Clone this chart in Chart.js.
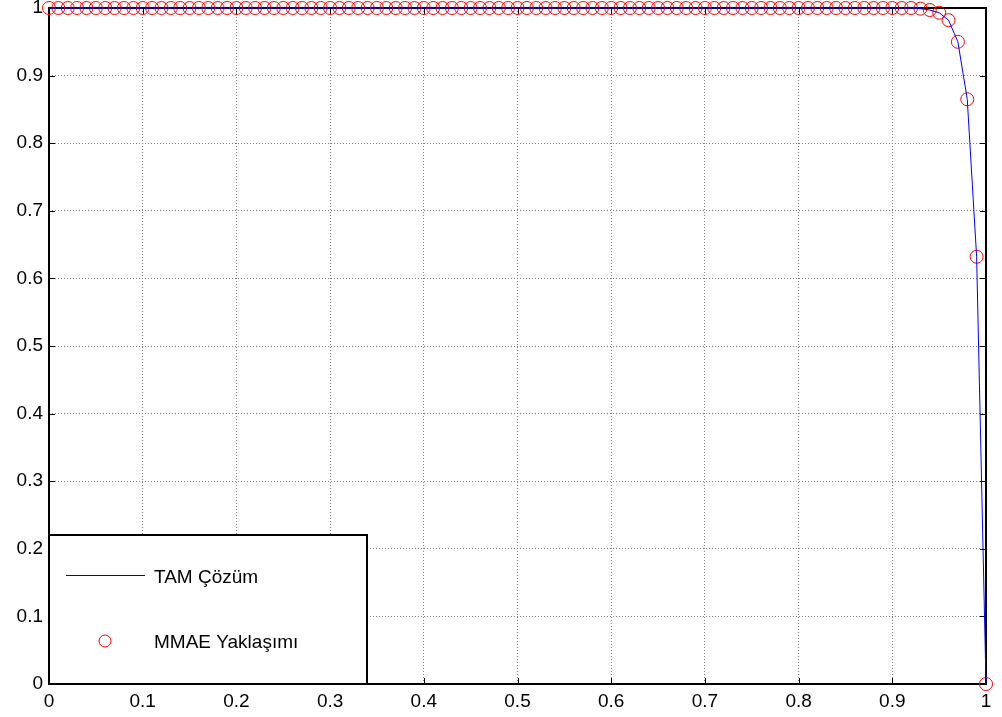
<!DOCTYPE html>
<html><head><meta charset="utf-8">
<script src="https://cdn.jsdelivr.net/npm/chart.js@4/dist/chart.umd.min.js"></script>
<style>html,body{margin:0;padding:0;background:#fff;}#wrap{width:1002px;height:717px;}</style>
</head><body><div id="wrap"><canvas id="c" width="1002" height="717"></canvas></div>
<script>
const xValues=[0,0.01,0.02,0.03,0.04,0.05,0.06,0.07,0.08,0.09,0.1,0.11,0.12,0.13,0.14,0.15,0.16,0.17,0.18,0.19,0.2,0.21,0.22,0.23,0.24,0.25,0.26,0.27,0.28,0.29,0.3,0.31,0.32,0.33,0.34,0.35,0.36,0.37,0.38,0.39,0.4,0.41,0.42,0.43,0.44,0.45,0.46,0.47,0.48,0.49,0.5,0.51,0.52,0.53,0.54,0.55,0.56,0.57,0.58,0.59,0.6,0.61,0.62,0.63,0.64,0.65,0.66,0.67,0.68,0.69,0.7,0.71,0.72,0.73,0.74,0.75,0.76,0.77,0.78,0.79,0.8,0.81,0.82,0.83,0.84,0.85,0.86,0.87,0.88,0.89,0.9,0.91,0.92,0.93,0.94,0.95,0.96,0.97,0.98,0.99,1];
const exactValues=[1,1,1,1,1,1,1,1,1,1,1,1,1,1,1,1,1,1,1,1,1,1,1,1,1,1,1,1,1,1,1,1,1,1,1,1,1,1,1,1,1,1,1,1,1,1,1,1,1,1,1,1,1,1,1,1,1,1,1,1,1,1,1,1,1,1,1,1,1,1,1,1,1,1,1,1,1,1,1,1,1,1,1,1,1,1,1,1,1,1,1,1,1,0.999,0.997,0.993,0.982,0.950,0.865,0.632,0];
const mmaeValues=[1,1,1,1,1,1,1,1,1,1,1,1,1,1,1,1,1,1,1,1,1,1,1,1,1,1,1,1,1,1,1,1,1,1,1,1,1,1,1,1,1,1,1,1,1,1,1,1,1,1,1,1,1,1,1,1,1,1,1,1,1,1,1,1,1,1,1,1,1,1,1,1,1,1,1,1,1,1,1,1,1,1,1,1,1,1,1,1,1,1,1,1,1,0.999,0.997,0.993,0.982,0.950,0.865,0.632,0];
const xTickLabels=['0','0.1','0.2','0.3','0.4','0.5','0.6','0.7','0.8','0.9','1'];
const yTickLabels=['0','0.1','0.2','0.3','0.4','0.5','0.6','0.7','0.8','0.9','1'];
const seriesLabels=['TAM Çözüm','MMAE Yaklaşımı'];

const FONT='"Liberation Sans", Arial, sans-serif';

const framePlugin={
  id:'frame',
  beforeDatasetsDraw(chart){
    const {ctx,chartArea:a,scales}=chart;
    ctx.save();
    ctx.strokeStyle='#000';ctx.lineWidth=1;
    const tl=6;
    scales.x.ticks.forEach(t=>{
      const px=Math.round(scales.x.getPixelForValue(t.value))+0.5;
      ctx.beginPath();ctx.moveTo(px,a.bottom);ctx.lineTo(px,a.bottom-tl);ctx.stroke();
      ctx.beginPath();ctx.moveTo(px,a.top);ctx.lineTo(px,a.top+tl);ctx.stroke();
    });
    scales.y.ticks.forEach(t=>{
      const py=Math.round(scales.y.getPixelForValue(t.value))+0.5;
      ctx.beginPath();ctx.moveTo(a.left,py);ctx.lineTo(a.left+tl,py);ctx.stroke();
      ctx.beginPath();ctx.moveTo(a.right,py);ctx.lineTo(a.right-tl,py);ctx.stroke();
    });
    ctx.lineWidth=2;
    ctx.strokeRect(a.left,a.top,a.right-a.left,a.bottom-a.top);
    ctx.restore();
  },
  afterDatasetsDraw(chart){
    const {ctx,chartArea:a}=chart;
    ctx.save();
    const L=a.left,T=535,R=367,B=a.bottom;
    ctx.fillStyle='#fff';
    ctx.fillRect(L,T,R-L,B-T);
    ctx.strokeStyle='#000';ctx.lineWidth=2;
    ctx.strokeRect(L,T,R-L,B-T);
    ctx.strokeStyle='#0000cc';ctx.lineWidth=1;
    ctx.beginPath();ctx.moveTo(66,575.5);ctx.lineTo(145,575.5);ctx.stroke();
    ctx.strokeStyle='#ff0000';
    ctx.beginPath();ctx.arc(105,641,6,0,Math.PI*2);ctx.stroke();
    ctx.fillStyle='#000';
    ctx.font='19px '+FONT;
    ctx.textBaseline='middle';ctx.textAlign='left';
    ctx.fillText(chart.data.datasets[0].label,154,578);
    ctx.fillText(chart.data.datasets[1].label,154,643);
    ctx.restore();
  }
};

new Chart(document.getElementById('c'),{
  type:'line',
  data:{datasets:[
    {label:seriesLabels[0],data:xValues.map((x,i)=>({x:x,y:exactValues[i]})),
     borderColor:'#0000ff',borderWidth:1,pointRadius:0,tension:0,fill:false,clip:false},
    {label:seriesLabels[1],data:xValues.map((x,i)=>({x:x,y:mmaeValues[i]})),
     showLine:false,pointStyle:'circle',pointRadius:6.5,pointBorderColor:'#ff0000',
     pointBackgroundColor:'rgba(0,0,0,0)',pointBorderWidth:1,borderColor:'#ff0000',clip:false}
  ]},
  options:{
    responsive:false,animation:false,devicePixelRatio:1,
    layout:{padding:{left:0,top:8,right:16,bottom:0}},
    plugins:{legend:{display:false},tooltip:{enabled:false}},
    scales:{
      x:{type:'linear',min:0,max:1,
        ticks:{stepSize:0.1,autoSkip:false,maxRotation:0,padding:6,color:'#000',
          font:{family:FONT,size:19},callback:(v,i)=>xTickLabels[i]},
        grid:{color:'#7f7f7f',lineWidth:1,drawTicks:false},
        border:{display:false,dash:[1,2]},
        afterFit:s=>{s.height=33;s.paddingLeft=0;s.paddingRight=0;}},
      y:{type:'linear',min:0,max:1,
        ticks:{stepSize:0.1,autoSkip:false,padding:6,color:'#000',
          font:{family:FONT,size:19},callback:(v,i)=>yTickLabels[i]},
        grid:{color:'#7f7f7f',lineWidth:1,drawTicks:false},
        border:{display:false,dash:[1,2]},
        afterFit:s=>{s.width=49;s.paddingTop=0;s.paddingBottom=0;}}
    }
  },
  plugins:[framePlugin]
});
</script></body></html>
